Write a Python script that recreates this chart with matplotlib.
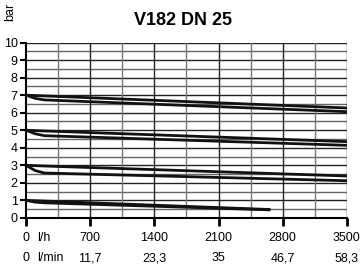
import matplotlib
matplotlib.use("Agg")
import matplotlib.pyplot as plt
import numpy as np

plt.rcParams['font.family'] = ['Liberation Sans Narrow', 'Liberation Sans', 'DejaVu Sans']

# flow (l/h) and pressure (bar) for each curve pair
flow = [0, 100, 200, 3500]
flow_1bar = [0, 100, 200, 2650]
upper_7 = [7.0, 6.98, 6.96, 6.27]
lower_7 = [7.0, 6.82, 6.73, 6.06]
upper_5 = [5.0, 4.98, 4.96, 4.35]
lower_5 = [5.0, 4.80, 4.69, 4.14]
upper_3 = [3.0, 2.98, 2.96, 2.39]
lower_3 = [3.0, 2.70, 2.56, 2.12]
upper_1 = [1.0, 0.98, 0.96, 0.48]
lower_1 = [1.0, 0.90, 0.86, 0.46]

x_ticks = [700, 1400, 2100, 2800, 3500]
lmin_labels = ['11,7', '23,3', '35', '46,7', '58,3']

fig = plt.figure(figsize=(3.61, 2.68), dpi=100)
ax = fig.add_axes([0.072, 0.187, 0.889, 0.654])

# grid
for v in np.arange(0.5, 10.01, 0.5):
    c = '#222222' if v % 1 == 0 else '#666666'
    ax.axhline(v, color=c, lw=1.0, zorder=1)
for v in np.arange(350, 3501, 350):
    c = '#222222' if v % 700 == 0 else '#777777'
    ax.axvline(v, color=c, lw=1.0, zorder=1)

for up, lo in [(upper_7, lower_7), (upper_5, lower_5), (upper_3, lower_3)]:
    ax.plot(flow, up, color='#111111', lw=2, zorder=3)
    ax.plot(flow, lo, color='#111111', lw=2, zorder=3)
ax.plot(flow_1bar, upper_1, color='#111111', lw=2, zorder=3)
ax.plot(flow_1bar, lower_1, color='#111111', lw=2, zorder=3)

ax.set_xlim(0, 3500)
ax.set_ylim(0, 10)
for s in ['top', 'right']:
    ax.spines[s].set_visible(False)
ax.spines['left'].set_linewidth(1.5)
ax.spines['bottom'].set_linewidth(1.5)

ax.set_yticks(range(0, 11))
ax.tick_params(axis='y', direction='out', length=4, width=1.5, labelsize=9, pad=2)
ax.set_xticks([0] + x_ticks)
ax.set_xticklabels([''] * 6)
ax.tick_params(axis='x', direction='out', length=6, width=2)

tr = ax.get_xaxis_transform()
for x, lab in zip(x_ticks, lmin_labels):
    ax.text(x, -0.08, str(x), transform=tr, ha='center', va='top', fontsize=9)
    ax.text(x, -0.195, lab, transform=tr, ha='center', va='top', fontsize=9)
ax.text(0, -0.08, '0', transform=tr, ha='center', va='top', fontsize=9)
ax.text(120, -0.08, 'l/h', transform=tr, ha='left', va='top', fontsize=9)
ax.text(0, -0.195, '0', transform=tr, ha='center', va='top', fontsize=9)
ax.text(120, -0.195, 'l/min', transform=tr, ha='left', va='top', fontsize=9)

fig.text(0.507, 0.925, 'V182 DN 25', ha='center', va='center', fontsize=13, fontweight='bold')
fig.text(0.028, 0.955, 'bar', rotation=90, ha='center', va='center', fontsize=9)

fig.savefig('out.png', dpi=100)
